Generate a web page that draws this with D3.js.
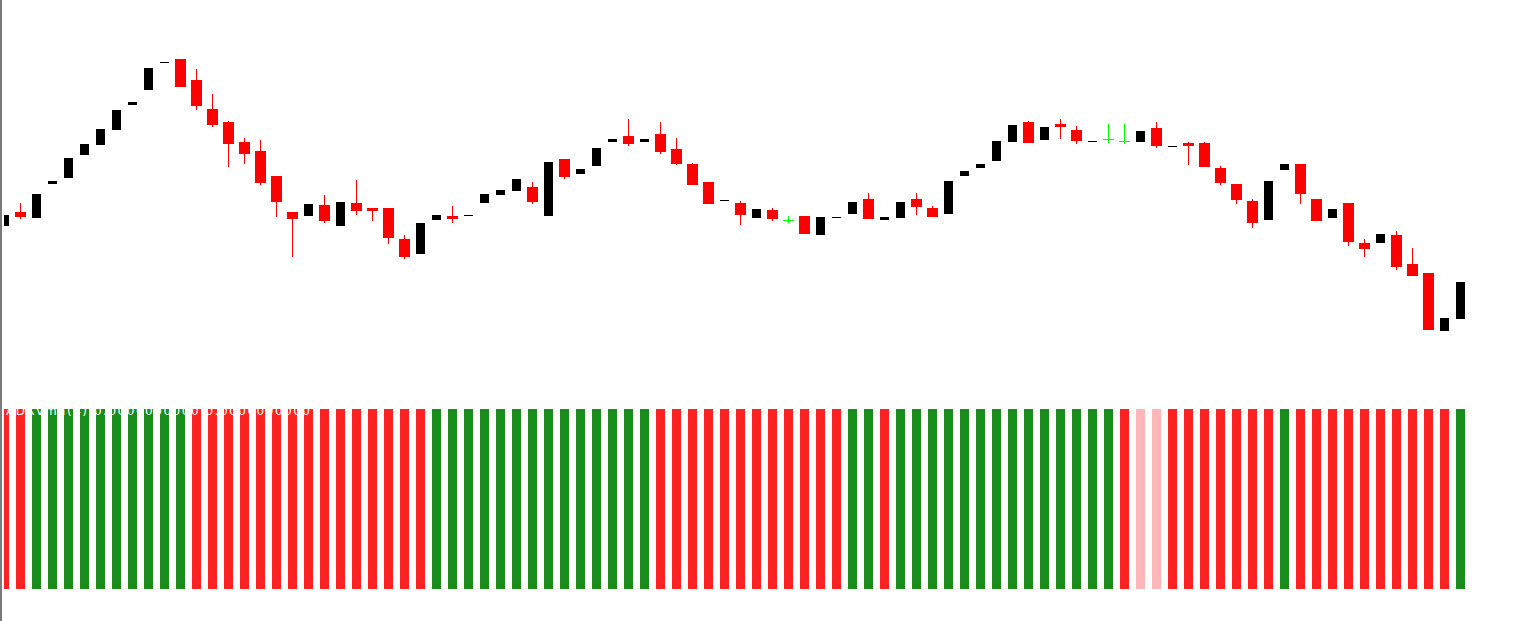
<!DOCTYPE html>
<html>
<head>
<meta charset="utf-8">
<script src="https://cdn.jsdelivr.net/npm/d3@7"></script>
<style>
  html, body { margin: 0; padding: 0; background: #fff; overflow: hidden; }
  svg { display: block; }
</style>
</head>
<body>
<div id="chart"></div>
<script>
// prices in points, one entry per bar
const open = [174,188,182,216,222,245,255,270,295,310,337,341,320,291,278,258,249,224,188,184,
  195,174,197,192,192,161,146,180,184,184,197,205,209,213,184,241,226,234,258,264,
  258,266,251,236,218,199,197,182,190,180,184,165,182,186,201,180,182,201,192,186,
  224,232,239,258,278,260,276,270,258,261,259,258,272,253,257,257,232,216,199,180,
  230,236,201,182,197,157,157,165,136,127,69,81];
const high = [185,197,206,219,242,256,271,290,298,332,338,341,331,306,279,262,260,224,188,196,
  205,198,220,192,192,165,177,185,194,185,206,210,221,218,238,241,231,252,261,281,
  261,278,262,237,218,200,199,191,192,184,184,183,183,198,207,183,198,207,194,219,
  229,236,259,275,279,273,281,274,259,276,276,269,278,254,258,258,234,216,201,219,
  236,236,201,191,197,161,166,169,152,127,82,118];
const low = [174,181,182,216,222,245,255,270,295,310,337,313,290,273,233,236,215,183,143,184,
  177,174,185,179,156,141,146,180,177,184,197,205,209,196,184,221,226,234,258,254,
  258,246,235,215,196,199,175,182,179,177,166,165,182,186,181,180,182,185,183,186,
  224,232,239,258,257,260,261,256,258,257,256,258,252,253,235,233,215,196,172,180,
  230,196,179,182,154,143,157,130,124,70,69,81];
const close = [185,183,206,219,242,256,271,290,298,332,338,313,294,275,256,246,217,198,181,196,
  179,198,189,189,162,143,177,185,181,185,206,210,221,198,238,223,231,252,261,256,
  261,248,236,215,196,200,185,191,181,180,166,183,183,198,181,183,198,193,183,219,
  229,236,259,275,257,273,273,259,259,261,259,269,254,254,254,233,217,200,177,219,
  236,206,179,191,158,151,166,133,124,70,82,118];

// indicator state per bar: "up" green, "dn" red, "flat" pale red
const histState = ["dn","dn","up","up","up","up","up","up","up","up","up","up","dn","dn","dn","dn","dn","dn","dn","dn",
  "dn","dn","dn","dn","dn","dn","dn","up","up","up","up","up","up","up","up","up","up","up","up","up",
  "up","dn","dn","dn","dn","dn","dn","dn","dn","dn","dn","dn","dn","up","up","dn","up","up","up","up",
  "up","up","up","up","up","up","up","up","up","up","dn","flat","flat","dn","dn","dn","dn","dn","dn","dn",
  "up","dn","dn","dn","dn","dn","dn","dn","dn","dn","dn","up"];
const histValue = histState.map(() => 1);

const indicatorLabel = "ADXvma(4) 0.0000000000 0.0000000000";

const width = 1537, height = 621;
const bars = d3.range(open.length);

const svg = d3.select("#chart").append("svg")
  .attr("width", width)
  .attr("height", height)
  .attr("shape-rendering", "crispEdges");

svg.append("defs").append("clipPath")
  .attr("id", "plot")
  .append("rect")
  .attr("x", 4).attr("y", 0)
  .attr("width", width - 4).attr("height", height);

const x = d3.scaleLinear()
  .domain([0, open.length - 1])
  .range([4.5, 4.5 + 16 * (open.length - 1)]);

const y = d3.scaleLinear()
  .domain([0, 400])
  .range([400, 0]);

const yh = d3.scaleLinear()
  .domain([0, 1])
  .range([589, 409]);

const histColor = { up: "#1a8c1c", dn: "#ff2222", flat: "#ffb6b8" };

const g = svg.append("g").attr("clip-path", "url(#plot)");

// histogram
g.append("g")
  .selectAll("rect")
  .data(bars)
  .join("rect")
  .attr("x", i => x(i) - 4.5)
  .attr("y", i => yh(histValue[i]))
  .attr("width", 9)
  .attr("height", i => yh(0) - yh(histValue[i]))
  .attr("fill", i => histColor[histState[i]]);

svg.append("text")
  .attr("x", 6)
  .attr("y", 415)
  .attr("fill", "#fff")
  .attr("font-family", "Tahoma, 'DejaVu Sans', sans-serif")
  .attr("font-size", 12)
  .attr("textLength", 304)
  .text(indicatorLabel);

// candles
const kind = i => close[i] > open[i] ? "bull" : close[i] < open[i] ? "bear" : "doji";

const candles = g.append("g")
  .selectAll("g")
  .data(bars)
  .join("g");

// wicks: red for bear, green for doji
candles.filter(i => kind(i) !== "bull")
  .append("line")
  .attr("x1", i => Math.floor(x(i)) + 0.5)
  .attr("x2", i => Math.floor(x(i)) + 0.5)
  .attr("y1", i => y(high[i]))
  .attr("y2", i => y(low[i]))
  .attr("stroke", i => kind(i) === "doji" ? "#00ff00" : "#ff0000")
  .attr("stroke-width", 1);

candles.filter(i => kind(i) === "bull")
  .append("rect")
  .attr("x", i => x(i) - 4.5)
  .attr("y", i => y(close[i]))
  .attr("width", 9)
  .attr("height", i => Math.max(1, y(open[i]) - y(close[i])))
  .attr("fill", "#000");

candles.filter(i => kind(i) === "bear")
  .append("rect")
  .attr("x", i => x(i) - 5.5)
  .attr("y", i => y(open[i]))
  .attr("width", 11)
  .attr("height", i => Math.max(1, y(close[i]) - y(open[i])))
  .attr("fill", "#ff0000");

candles.filter(i => kind(i) === "doji")
  .append("line")
  .attr("x1", i => x(i) - 5.5)
  .attr("x2", i => x(i) + 5.5)
  .attr("y1", i => y(close[i]) + 0.5)
  .attr("y2", i => y(close[i]) + 0.5)
  .attr("stroke", "#00ff00")
  .attr("stroke-width", 1);

// window border on the left
svg.append("rect")
  .attr("x", 0).attr("y", 0)
  .attr("width", 2).attr("height", height)
  .attr("fill", "#7b7b7b");
</script>
</body>
</html>
